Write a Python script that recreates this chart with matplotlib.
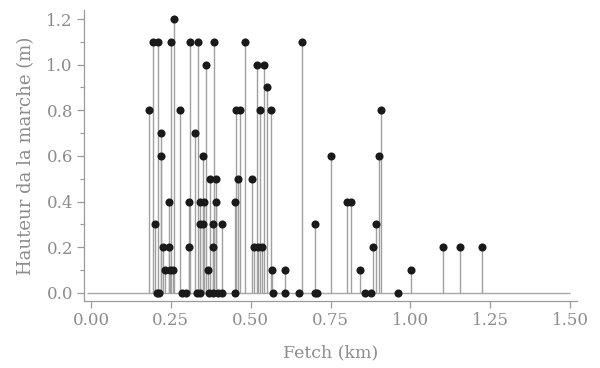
import matplotlib
matplotlib.use("Agg")
import matplotlib.pyplot as plt
from matplotlib.ticker import MultipleLocator
import numpy as np

# Data: fetch (km) and step height (m)
fetch_km = [
    0.183, 0.193, 0.200, 0.206, 0.211, 0.214, 0.219, 0.219, 0.225, 0.233,
    0.245, 0.245, 0.248, 0.252, 0.258, 0.260, 0.279, 0.284, 0.298, 0.308,
    0.308, 0.310, 0.327, 0.331, 0.336, 0.340, 0.342, 0.342, 0.352, 0.352,
    0.354, 0.360, 0.365, 0.368, 0.373, 0.381, 0.381, 0.383, 0.386, 0.392,
    0.392, 0.399, 0.410, 0.411, 0.450, 0.451, 0.455, 0.459, 0.465, 0.483,
    0.504, 0.511, 0.519, 0.524, 0.530, 0.535, 0.542, 0.551, 0.563, 0.566,
    0.571, 0.608, 0.608, 0.652, 0.662, 0.702, 0.702, 0.707, 0.752, 0.801,
    0.814, 0.841, 0.857, 0.877, 0.882, 0.892, 0.903, 0.908, 0.961, 1.003,
    1.102, 1.155, 1.223,
]
hauteur_m = [
    0.8, 1.1, 0.3, 0.0, 1.1, 0.0, 0.7, 0.6, 0.2, 0.1,
    0.2, 0.4, 0.1, 1.1, 0.1, 1.2, 0.8, 0.0, 0.0, 0.4,
    0.2, 1.1, 0.7, 0.0, 1.1, 0.4, 0.0, 0.3, 0.3, 0.6,
    0.4, 1.0, 0.1, 0.0, 0.5, 0.3, 0.2, 0.0, 1.1, 0.5,
    0.4, 0.0, 0.0, 0.3, 0.4, 0.0, 0.8, 0.5, 0.8, 1.1,
    0.5, 0.2, 1.0, 0.2, 0.8, 0.2, 1.0, 0.9, 0.8, 0.1,
    0.0, 0.1, 0.0, 0.0, 1.1, 0.3, 0.0, 0.0, 0.6, 0.4,
    0.4, 0.1, 0.0, 0.0, 0.2, 0.3, 0.6, 0.8, 0.0, 0.1,
    0.2, 0.2, 0.2,
]
x_ticks = [0.00, 0.25, 0.50, 0.75, 1.00, 1.25, 1.50]
x_tick_labels = ["0.00", "0.25", "0.50", "0.75", "1.00", "1.25", "1.50"]
y_ticks = [0.0, 0.2, 0.4, 0.6, 0.8, 1.0, 1.2]
y_tick_labels = ["0.0", "0.2", "0.4", "0.6", "0.8", "1.0", "1.2"]

plt.rcParams['font.family'] = ['DejaVu Serif', 'Liberation Serif']
text_col = "#8c8c8c"
axis_col = "#9a9a9a"

fig = plt.figure(figsize=(6.0, 3.68), dpi=100)
ax = fig.add_axes([0.14, 0.182, 0.8217, 0.791])

# baseline
ax.hlines(0, -0.012, 1.5, color="#a8a8a8", lw=1.0, zorder=1)
# stems
ax.vlines(fetch_km, 0, hauteur_m, color="#a0a0a0", lw=1.0, zorder=2)
# points
ax.scatter(fetch_km, hauteur_m, s=34, color="#1a1a1a", zorder=3, linewidths=0)

ax.set_xlim(-0.022, 1.522)
ax.set_ylim(-0.036, 1.24)

ax.set_xticks(x_ticks)
ax.set_xticklabels(x_tick_labels)
ax.set_yticks(y_ticks)
ax.set_yticklabels(y_tick_labels)
ax.yaxis.set_minor_locator(MultipleLocator(0.1))

for s in ["top", "right"]:
    ax.spines[s].set_visible(False)
for s in ["left", "bottom"]:
    ax.spines[s].set_color(axis_col)
    ax.spines[s].set_linewidth(0.9)

ax.tick_params(axis="both", which="major", length=5, width=0.9, color=axis_col,
               labelcolor=text_col, labelsize=12, pad=3)
ax.tick_params(axis="y", which="minor", length=3, width=0.8, color=axis_col)

ax.set_xlabel("Fetch (km)", color=text_col, fontsize=12.5, labelpad=11)
ax.set_ylabel("Hauteur da la marche (m)", color=text_col, fontsize=13, labelpad=8)

fig.savefig("out.png", dpi=100)
